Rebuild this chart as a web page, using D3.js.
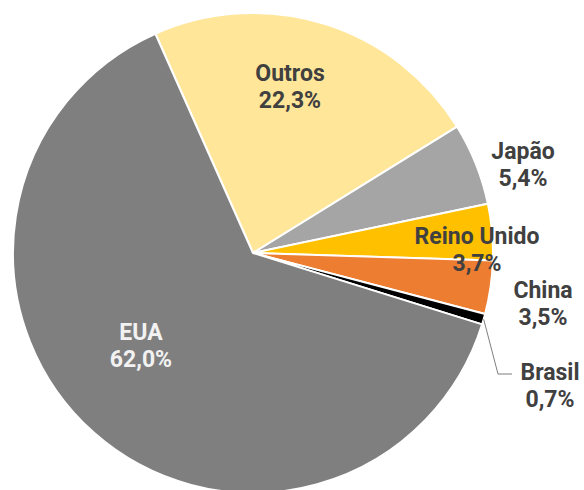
<!DOCTYPE html>
<html>
<head>
<meta charset="utf-8">
<script src="https://cdn.jsdelivr.net/npm/d3@7"></script>
<style>
  html, body { margin: 0; padding: 0; background: #ffffff; }
  svg { display: block; }
  text { font-family: Roboto, "Noto Sans", sans-serif; font-weight: 700; }
</style>
</head>
<body>
<svg id="chart" width="584" height="490"></svg>
<script>
// Share of the total, by country (percent)
const categories = ["Outros", "Japão", "Reino Unido", "China", "Brasil", "EUA"];
const shares = [22.3, 5.4, 3.7, 3.5, 0.7, 62.0];
const sliceColors = ["#FFE699", "#A5A5A5", "#FFC000", "#ED7D31", "#000000", "#7F7F7F"];

const W = 584, H = 490;
const cx = 253, cy = 253, R = 240;

// Label placement per category: centre x, first baseline y, text colour
const labelLayout = {
  "Outros":      { x: 290, y: 81,  color: "#404040" },
  "Japão":       { x: 523, y: 159, color: "#404040" },
  "Reino Unido": { x: 477, y: 244, color: "#404040" },
  "China":       { x: 543, y: 298, color: "#404040" },
  "Brasil":      { x: 550, y: 380, color: "#404040" },
  "EUA":         { x: 141, y: 340, color: "#F2F2F2" }
};
const lineGap = 27;

const ptBR = d3.formatLocale({ decimal: ",", thousands: ".", grouping: [3], currency: ["R$", ""] });
const fmtPct = v => ptBR.format(".1f")(v) + "%";

const data = categories.map((c, i) => ({ name: c, value: shares[i], color: sliceColors[i] }));

const svg = d3.select("#chart");
const g = svg.append("g").attr("transform", `translate(${cx},${cy})`);

const start = -24 * Math.PI / 180;
const pie = d3.pie().sort(null).value(d => d.value)
  .startAngle(start).endAngle(start + 2 * Math.PI);
const arcs = pie(data);

const arc = d3.arc().innerRadius(0).outerRadius(R);

g.selectAll("path.slice")
  .data(arcs)
  .join("path")
  .attr("class", "slice")
  .attr("d", arc)
  .attr("fill", d => d.data.color)
  .attr("stroke", "#ffffff")
  .attr("stroke-width", 2)
  .attr("stroke-linejoin", "round");

// Leader line for the thin Brasil slice
const brasil = arcs.find(a => a.data.name === "Brasil");
const mid = (brasil.startAngle + brasil.endAngle) / 2;
const p0 = [cx + R * Math.sin(mid), cy - R * Math.cos(mid)];
const lb = labelLayout["Brasil"];
const p1 = [lb.x - 52, lb.y - 6];
const p2 = [lb.x - 38, lb.y - 6];
svg.append("path")
  .attr("d", d3.line()([p0, p1, p2]))
  .attr("fill", "none")
  .attr("stroke", "#7F7F7F")
  .attr("stroke-width", 1);

// Category name and share
const labels = svg.selectAll("g.label")
  .data(arcs)
  .join("g")
  .attr("class", "label");

labels.each(function(d) {
  const L = labelLayout[d.data.name];
  const t = d3.select(this).append("text")
    .attr("text-anchor", "middle")
    .attr("font-size", 23)
    .attr("fill", L.color);
  t.append("tspan").attr("x", L.x).attr("y", L.y).text(d.data.name);
  t.append("tspan").attr("x", L.x).attr("y", L.y + lineGap).text(fmtPct(d.data.value));
});
</script>
</body>
</html>
